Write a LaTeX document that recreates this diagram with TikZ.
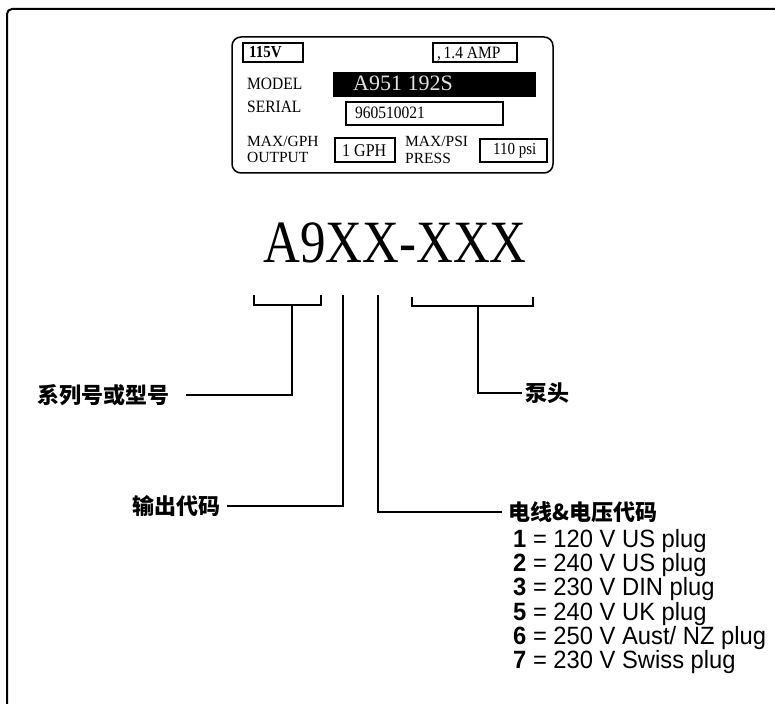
\documentclass[tikz,border=0pt]{standalone}
\usepackage{fontspec}
\setmainfont{Liberation Serif}
\newfontfamily\arialf{Liberation Sans}
\newfontfamily\cjkf{Noto Sans CJK SC}
\newcommand{\fsz}[1]{\fontsize{#1}{#1}\selectfont}
\newcommand{\narrowtxt}[1]{\scalebox{0.95}[1]{#1}}
\newcommand{\tallp}[1]{\scalebox{1}[1.12]{#1}}
\begin{document}
\begin{tikzpicture}[x=1pt,y=-1pt,
  plate/.style={line width=1.5pt,rounded corners=9pt},
  pbox/.style={line width=1.2pt},
  ptxt/.style={anchor=base west,inner sep=0pt,font=\fsz{15.5}},
  conn/.style={line width=2pt},
  cjklab/.style={inner ysep=0pt,font=\cjkf\bfseries\fsz{22}},
  legend/.style={anchor=base west,inner sep=0pt,font=\arialf\fsz{25}}]
\useasboundingbox (0,0) rectangle (775,703);
% outer frame
\draw[line width=2pt,rounded corners=5pt] (7,704) -- (7,9) -- (776,9);
% data plate
\draw[plate] (232,37) rectangle (553,173);
\draw[pbox] (243,43) rectangle (303,62);
\draw[pbox] (433,43) rectangle (517,62);
\fill[black] (333,72) rectangle (536,97);
\draw[pbox] (346,102) rectangle (503,125);
\draw[pbox] (335,138) rectangle (395,162);
\draw[pbox] (480,139) rectangle (547,162);
\node[ptxt,font=\bfseries\fsz{15}] (v115) at (249,58) {\tallp{115V}};
\node[ptxt] (amp) at (437,59) {\tallp{,\,1.4 AMP}};
\node[ptxt] (model) at (247,90) {\tallp{MODEL}};
\node[ptxt,font=\fsz{22},text=black!12] (modelno) at (353,91) {A951 192S};
\node[ptxt] (serial) at (247,113) {\tallp{SERIAL}};
\node[ptxt] (serialno) at (355,119) {\tallp{960510021}};
\node[ptxt] (maxgph) at (247,147) {MAX/GPH};
\node[ptxt] (output) at (247,163) {OUTPUT};
\node[ptxt,font=\fsz{16}] (gph) at (342,157) {\tallp{1 GPH}};
\node[ptxt] (maxpsi) at (405,147) {MAX/PSI};
\node[ptxt] (press) at (405,164) {PRESS};
\node[ptxt,font=\fsz{15}] (psi) at (493,155) {\tallp{110 psi}};
% big code
\node[anchor=base,inner sep=0pt,font=\fsz{60}] (code) at (395,262) {\scalebox{0.85}[1]{A9XX-XXX}};
% bracket points
\coordinate (b1a) at (254,295); \coordinate (b1b) at (254,305);
\coordinate (b1c) at (321,305); \coordinate (b1d) at (321,295);
\coordinate (b1s) at (292,305);
\coordinate (v2) at (343,295);
\coordinate (v3) at (378,295);
\coordinate (b4a) at (412,297); \coordinate (b4b) at (412,306);
\coordinate (b4c) at (533,306); \coordinate (b4d) at (533,297);
\coordinate (b4s) at (478,306);
% labels
\node[cjklab,anchor=east,inner xsep=16pt] (series) at (186,395) {系列号或型号};
\node[cjklab,anchor=east,inner xsep=6pt] (outcode) at (227,506) {输出代码};
\node[cjklab,anchor=west,inner xsep=3pt] (head) at (522,393) {泵头};
\node[cjklab,anchor=west,inner xsep=6pt] (cordcode) at (502,512) {电线\&电压代码};
% connectors
\draw[conn] (b1a) -- (b1b) -- (b1c) -- (b1d);
\draw[conn] (b1s) |- (series.east);
\draw[conn] (v2) |- (outcode.east);
\draw[conn] (v3) |- (cordcode.west);
\draw[conn] (b4a) -- (b4b) -- (b4c) -- (b4d);
\draw[conn] (b4s) |- (head.west);
% legend
\node[legend] (l1) at (513,547) {\narrowtxt{\textbf{1} = 120 V US plug}};
\node[legend] (l2) at (513,571) {\narrowtxt{\textbf{2} = 240 V US plug}};
\node[legend] (l3) at (513,595) {\narrowtxt{\textbf{3} = 230 V DIN plug}};
\node[legend] (l5) at (513,620) {\narrowtxt{\textbf{5} = 240 V UK plug}};
\node[legend] (l6) at (513,644) {\narrowtxt{\textbf{6} = 250 V Aust/ NZ plug}};
\node[legend] (l7) at (513,668) {\narrowtxt{\textbf{7} = 230 V Swiss plug}};
\end{tikzpicture}
\end{document}
